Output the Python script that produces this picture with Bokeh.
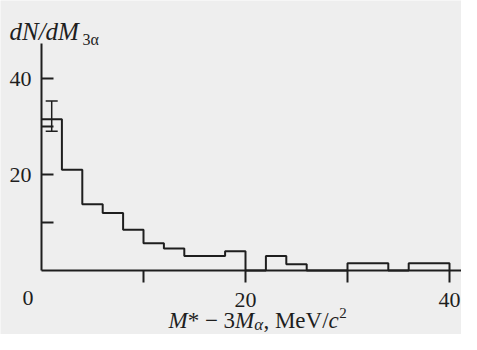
from bokeh.plotting import figure
from bokeh.models import Range1d, FixedTicker, Label, Whisker, TeeHead, ColumnDataSource
from bokeh.embed import file_html
from bokeh.resources import INLINE

# ---- data ----
bin_edges = [0, 2, 4, 6, 8, 10, 12, 14, 16, 18, 20, 22, 24, 26, 28, 30, 32, 34, 36, 38, 40]
counts = [31.5, 21, 13.8, 12, 8.5, 5.7, 4.6, 3, 3, 4, 0, 3, 1.3, 0, 0, 1.5, 1.5, 0, 1.5, 1.5]
err_x = [1]
err_low = [29]
err_high = [35.3]
x_ticks = [10, 20, 30, 40]
x_tick_labels = {20: "20", 40: "40"}
y_ticks = [10, 20, 30, 40]
y_tick_labels = {20: "20", 40: "40"}
origin_label = "0"

INK = "#1e1e1e"
BG = "#eeeeee"
FONT = "Liberation Serif"

W, H = 461, 334
X0, Y0 = 41, 270          # pixel position of data origin
SX, SY = 10.2, 4.8        # pixels per data unit


def dx(px):
    return (px - X0) / SX


def dy(py):
    return (Y0 - py) / SY


p = figure(width=W, height=H, output_backend="svg", toolbar_location=None,
           x_range=Range1d(dx(0), dx(W)), y_range=Range1d(dy(H), dy(0)),
           min_border=0, min_border_left=0, min_border_right=0,
           min_border_top=0, min_border_bottom=0)
p.background_fill_color = BG
p.border_fill_color = BG
p.outline_line_color = None
p.grid.visible = False

# axes drawn through the origin
p.xaxis.fixed_location = 0
p.xaxis.bounds = (0, dx(W))
p.yaxis.fixed_location = 0
p.yaxis.bounds = (0, dy(43))
p.xaxis.ticker = FixedTicker(ticks=x_ticks)
p.xaxis.major_label_overrides = {t: x_tick_labels.get(t, "") for t in x_ticks}
p.xaxis.major_tick_in = 0
p.xaxis.major_tick_out = 12
p.xaxis.major_label_standoff = 10
p.yaxis.ticker = FixedTicker(ticks=y_ticks)
p.yaxis.major_label_overrides = {t: y_tick_labels.get(t, "") for t in y_ticks}
p.yaxis.major_tick_in = 12
p.yaxis.major_tick_out = 0
p.yaxis.major_label_standoff = 10
for ax in (p.xaxis, p.yaxis):
    ax.minor_tick_in = 0
    ax.minor_tick_out = 0
    ax.axis_line_width = 2
    ax.axis_line_color = INK
    ax.major_tick_line_width = 2
    ax.major_tick_line_color = INK
    ax.major_label_text_font = FONT
    ax.major_label_text_font_size = "22px"
    ax.major_label_text_color = INK
p.yaxis.major_label_orientation = "horizontal"

# histogram outline (step)
step_x = bin_edges
step_y = counts + [0]
p.step(x=step_x, y=step_y, mode="after", line_width=2, line_color=INK)

# error bar on first bin
src = ColumnDataSource(dict(base=err_x, lower=err_low, upper=err_high))
w = Whisker(source=src, base="base", lower="lower", upper="upper", dimension="height",
            line_color=INK, line_width=1.5,
            lower_head=TeeHead(size=12, line_color=INK, line_width=1.5),
            upper_head=TeeHead(size=12, line_color=INK, line_width=1.5))
p.add_layout(w)


def lab(text, px, py, size, style="normal", align="left"):
    # empirical baseline correction for the renderer
    py = py - 0.4 * size
    p.add_layout(Label(x=dx(px), y=dy(py), text=text, text_font=FONT,
                       text_font_size=f"{size}px", text_font_style=style,
                       text_color=INK, text_align=align, text_baseline="alphabetic"))


# origin label
lab(origin_label, 27.5, 306, 22, align="center")

# y-axis title: dN/dM_{3alpha}
lab("dN/dM", 9, 40.5, 25, "italic")
lab("3α", 82, 45, 16)

# x-axis title: M* - 3M_alpha, MeV/c^2  (pieces laid out left to right)
TB = 329
FS = 23
pieces = [  # text, advance (em of FS), size, style, baseline shift
    ("M", 0.833, FS, "italic", 0),
    ("*", 0.75, FS, "normal", 0),
    ("\u2212", 0.81, FS, "normal", 0),
    ("3", 0.5, FS, "normal", 0),
    ("M", 0.833, FS, "italic", 0),
    ("α", 0.40, 17, "italic", 2),
    (",", 0.50, FS, "normal", 0),
    ("MeV/", 2.33, FS, "normal", 0),
    ("c", 0.47, FS, "italic", 0),
    ("2", 0.33, 15, "normal", -11),
]
cursor = 168
for text, adv, size, style, shift in pieces:
    lab(text, cursor, TB + shift, size, style)
    cursor += adv * FS

open("out.html", "w").write(file_html(p, INLINE))
